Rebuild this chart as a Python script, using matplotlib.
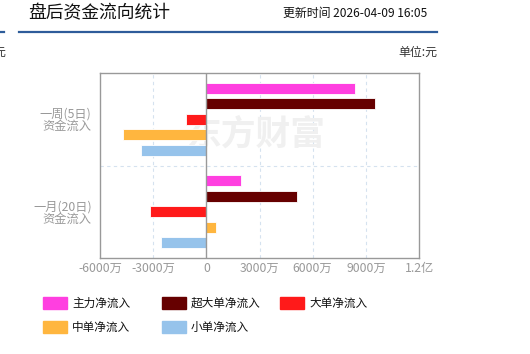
import matplotlib; matplotlib.use('Agg')
import matplotlib.pyplot as plt
from matplotlib.patches import Rectangle
from matplotlib.lines import Line2D
from matplotlib.ticker import FuncFormatter

plt.rcParams['font.family'] = ['Noto Sans CJK SC', 'DejaVu Sans']

# values in 万元
CATEGORIES = ['一周(5日)\n资金流入', '一月(20日)\n资金流入']
SERIES = ['主力净流入', '超大单净流入', '大单净流入', '中单净流入', '小单净流入']
COLORS = ['#ff3fe0', '#660000', '#ff1a1a', '#ffb63f', '#96c3eb']
WEEK = [8364, 9490, -1126, -4728, -3681]
MONTH = [1948, 5139, -3191, 563, -2572]
XTICKS = [-6000, -3000, 0, 3000, 6000, 9000, 12000]

W, H = 530, 354
fig = plt.figure(figsize=(W/100, H/100), dpi=100)

def fx(px): return px / W
def fy(py): return 1 - py / H

# header
fig.text(fx(28), fy(13), '盘后资金流向统计', fontsize=12.8, color='#111', va='center')
fig.text(fx(427), fy(13), '更新时间 2026-04-09 16:05', fontsize=8.6, color='#111', va='center', ha='right')
fig.add_artist(Line2D([fx(19), fx(437)], [fy(31.5)] * 2, color='#2e5c9a', lw=1.6))
fig.add_artist(Line2D([fx(0), fx(4)], [fy(31.5)] * 2, color='#2e5c9a', lw=1.6))
fig.text(fx(437), fy(52), '单位:元', fontsize=8.6, color='#333', va='center', ha='right')
fig.text(fx(-7), fy(52), '元', fontsize=8.6, color='#333', va='center', ha='left')

ax = fig.add_axes([fx(100), fy(258), (419 - 100) / W, (258 - 73) / H])
ax.set_xlim(-6000, 12000)
ax.set_ylim(2, 0)

bh = 0.122
step = 0.168
for ci, vals in enumerate([WEEK, MONTH]):
    for k, (v, c) in enumerate(zip(vals, COLORS)):
        y = ci + 0.5 + (k - 2) * step
        ax.barh(y, v, height=bh, color=c, edgecolor='white', linewidth=0.6, zorder=3)

# watermark
ax.text(2850, 0.66, '东方财富', fontsize=25, fontweight='bold',
        color='#f0f0f0', ha='center', va='center', zorder=1)

for t in XTICKS:
    if t in (-6000, 0, 12000):
        continue
    ax.axvline(t, color='#d5e2ef', lw=0.8, ls=(0, (3, 3)), zorder=0)
ax.axhline(1, color='#d5e2ef', lw=0.8, ls=(0, (3, 3)), zorder=0)
ax.axvline(0, color='#999999', lw=1.0, zorder=4)

def fmt(v, pos):
    if v == 0: return '0'
    if abs(v) >= 10000: return f'{v / 10000:g}亿'
    return f'{int(v)}万'

ax.set_xticks(XTICKS)
ax.xaxis.set_major_formatter(FuncFormatter(fmt))
ax.set_yticks([0.5, 1.5])
ax.set_yticklabels(CATEGORIES, fontsize=8.6, color='#999999', linespacing=0.95, ha='right')
ax.tick_params(axis='both', length=0, colors='#999999', labelsize=8.8)
ax.tick_params(axis='x', pad=3)
ax.tick_params(axis='y', pad=6)
for s in ax.spines.values():
    s.set_color('#999999'); s.set_linewidth(1.0)

# legend
LEG_X = [43, 162, 280]
LEG_Y = [303, 327]
for i, (name, c) in enumerate(zip(SERIES, COLORS)):
    x0, yc = LEG_X[i % 3], LEG_Y[i // 3]
    fig.add_artist(Rectangle((fx(x0), fy(yc + 6)), 24 / W, 12 / H, color=c, transform=fig.transFigure))
    fig.text(fx(x0 + 29), fy(yc), name, fontsize=8.4, color='#111', va='center')

fig.savefig('out.png', dpi=100)
